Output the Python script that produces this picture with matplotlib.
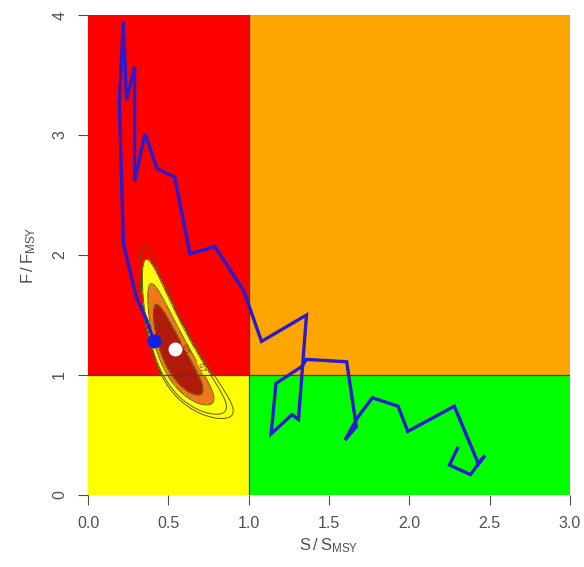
import matplotlib.pyplot as plt
import numpy as np

plt.rcParams['font.family'] = ['Liberation Sans', 'DejaVu Sans']
plt.rcParams['mathtext.fontset'] = 'custom'
plt.rcParams['mathtext.rm'] = 'Liberation Sans'

# stock trajectory S/Smsy and F/Fmsy, first year -> last year
s_ratio = [2.30, 2.25, 2.38, 2.47, 2.43, 2.28, 1.99, 1.93, 1.77, 1.68,
           1.60, 1.67, 1.61, 1.36, 1.33, 1.17, 1.14, 1.27, 1.31, 1.36,
           1.08, 0.97, 0.79, 0.635, 0.54, 0.43, 0.355, 0.29, 0.29, 0.24,
           0.22, 0.195, 0.21, 0.22, 0.25, 0.30, 0.365, 0.41]
f_ratio = [0.39, 0.25, 0.17, 0.33, 0.26, 0.74, 0.53, 0.74, 0.81, 0.65,
           0.46, 0.57, 1.11, 1.13, 1.07, 0.93, 0.51, 0.67, 0.63, 1.50,
           1.28, 1.70, 2.07, 2.01, 2.65, 2.72, 3.01, 2.61, 3.57, 3.29,
           3.94, 3.27, 2.60, 2.10, 1.93, 1.65, 1.46, 1.28]

# median of the current status distribution
median_s = 0.54
median_f = 1.22

# lognormal uncertainty of current status
log_mean = [np.log(0.54), np.log(1.15)]
log_sd = [0.24, 0.275]
log_rho = -0.84
prob_levels = [0.5, 0.7, 0.85, 0.9]

fig = plt.figure(figsize=(5.84, 5.67), dpi=100)
ax = fig.add_axes([88 / 584, 1 - 495 / 567, 482 / 584, 480 / 567])

# kobe quadrants
ax.axvspan(0, 1, ymin=0, ymax=0.25, color='#ffff00', lw=0)
ax.axvspan(0, 1, ymin=0.25, ymax=1, color='#ff0000', lw=0)
ax.axvspan(1, 3, ymin=0, ymax=0.25, color='#00ff00', lw=0)
ax.axvspan(1, 3, ymin=0.25, ymax=1, color='#ffa500', lw=0)
ax.axhline(1, color='#404040', lw=0.9)
ax.axvline(1, color='#404040', lw=0.9)

# probability contours (Mahalanobis distance in log space)
gx, gy = np.meshgrid(np.linspace(0.05, 2.0, 400), np.linspace(0.05, 3.0, 400))
z1 = (np.log(gx) - log_mean[0]) / log_sd[0]
z2 = (np.log(gy) - log_mean[1]) / log_sd[1]
d2 = (z1**2 + z2**2 - 2 * log_rho * z1 * z2) / (1 - log_rho**2)
lv = [-2 * np.log(1 - p) for p in prob_levels]
ax.contourf(gx, gy, d2, levels=[0, lv[0], lv[1], lv[2]],
            colors=['#b01a0a', '#f07818', '#ffff10'])
cs = ax.contour(gx, gy, d2, levels=lv, colors='#5a5a10', linewidths=0.7)
ax.clabel(cs, levels=lv[:2], fmt={lv[0]: '0.5', lv[1]: '0.7'},
          fontsize=5, colors='#5a3a10')

ax.plot(s_ratio, f_ratio, color='#2a1ad0', lw=2.4, solid_joinstyle='miter')
ax.plot(s_ratio[-1], f_ratio[-1], 'o', color='#1020e8', ms=9)
ax.plot(median_s, median_f, 'o', color='white', ms=9)

ax.set_xlim(0, 3)
ax.set_ylim(0, 4)
for sp in ax.spines.values():
    sp.set_visible(False)
ax.set_xticks([0, 0.5, 1, 1.5, 2, 2.5, 3])
ax.set_xticklabels(['0.0', '0.5', '1.0', '1.5', '2.0', '2.5', '3.0'])
ax.set_yticks([0, 1, 2, 3, 4])
ax.set_yticklabels(['0', '1', '2', '3', '4'], rotation=90, va='center')
ax.tick_params(direction='out', length=7, width=0.8, colors='#505050',
               labelsize=11.5, pad=8)
ax.set_xlabel(r'$\mathrm{S\,/\,S_{MSY}}$', fontsize=12, color='#505050', labelpad=4)
ax.set_ylabel(r'$\mathrm{F\,/\,F_{MSY}}$', fontsize=12, color='#505050', labelpad=10)

fig.savefig('out.png', dpi=100)
